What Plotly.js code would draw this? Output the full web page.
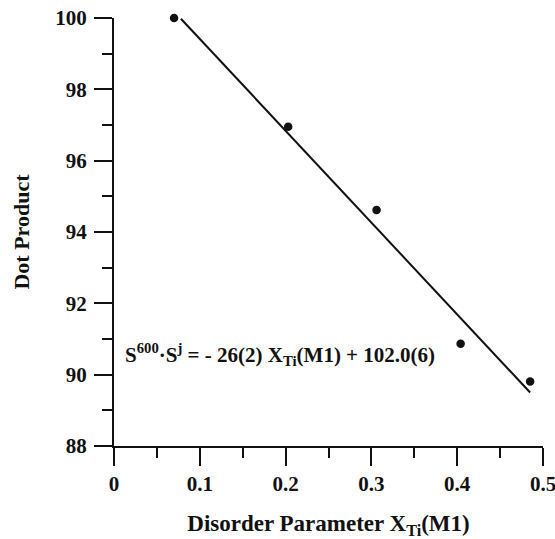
<!DOCTYPE html>
<html>
<head>
<meta charset="utf-8">
<script src="https://cdn.plot.ly/plotly-3.0.1.min.js"></script>
<style>html,body{margin:0;padding:0;background:#fff;}#chart{width:555px;height:539px;}</style>
</head>
<body>
<div id="chart"></div>
<script>
// Data
const disorderX = [0.07, 0.203, 0.306, 0.404, 0.485];
const dotProduct = [100.0, 96.95, 94.62, 90.87, 89.81];
// Fitted line endpoints (as drawn)
const fitX = [0.078, 0.485];
const fitY = [99.98, 89.5];
const xTicks = [0, 0.1, 0.2, 0.3, 0.4, 0.5];
const xTickText = ['0', '0.1', '0.2', '0.3', '0.4', '0.5'];
const yTicks = [88, 90, 92, 94, 96, 98, 100];
const yTickText = ['88', '90', '92', '94', '96', '98', '100'];

const font = 'Liberation Serif, Times New Roman, serif';

const traces = [
  {x: fitX, y: fitY, mode: 'lines', line: {color: '#111', width: 2}, hoverinfo: 'skip', cliponaxis: false},
  {x: disorderX, y: dotProduct, mode: 'markers', marker: {color: '#111', size: 8.5}, cliponaxis: false}
];

const layout = {
  width: 555, height: 539,
  margin: {l: 114, r: 12, t: 18, b: 93},
  showlegend: false,
  paper_bgcolor: '#fff', plot_bgcolor: '#fff',
  font: {family: font, color: '#111'},
  xaxis: {
    range: [0, 0.5], tickvals: xTicks, ticktext: xTickText,
    showgrid: false, zeroline: false, showline: true, linecolor: '#111', linewidth: 2,
    ticks: 'outside', ticklen: 18, tickwidth: 2, tickcolor: '#111',
    ticklabelstandoff: 0, ticklabeloverflow: 'allow',
    tickfont: {family: font, size: 21, weight: 'bold', color: '#111'},
    minor: {tickvals: [0.05, 0.15, 0.25, 0.35, 0.45], ticks: 'outside', ticklen: 10, tickwidth: 2, tickcolor: '#111', showgrid: false},
    title: {text: 'Disorder Parameter X<sub>Ti</sub>(M1)', font: {family: font, size: 23, weight: 'bold', color: '#111'}, standoff: 20},
    fixedrange: true
  },
  yaxis: {
    range: [88, 100], tickvals: yTicks, ticktext: yTickText,
    showgrid: false, zeroline: false, showline: true, linecolor: '#111', linewidth: 2,
    ticks: 'outside', ticklen: 18, tickwidth: 2, tickcolor: '#111',
    ticklabelstandoff: 3, ticklabeloverflow: 'allow',
    tickfont: {family: font, size: 21, weight: 'bold', color: '#111'},
    minor: {tickvals: [89, 91, 93, 95, 97, 99], ticks: 'outside', ticklen: 10, tickwidth: 2, tickcolor: '#111', showgrid: false},
    title: {text: 'Dot Product', font: {family: font, size: 22, weight: 'bold', color: '#111'}, standoff: 20},
    fixedrange: true
  },
  annotations: [{
    x: 0.011, y: 90.57, xref: 'x', yref: 'y', xanchor: 'left', yanchor: 'middle', showarrow: false,
    text: 'S<sup>600</sup>·S<sup>j</sup> = - 26(2) X<sub>Ti</sub>(M1) + 102.0(6)',
    font: {family: font, size: 21, weight: 'bold', color: '#111'}
  }]
};

Plotly.newPlot('chart', traces, layout, {staticPlot: true, displayModeBar: false});
</script>
</body>
</html>
